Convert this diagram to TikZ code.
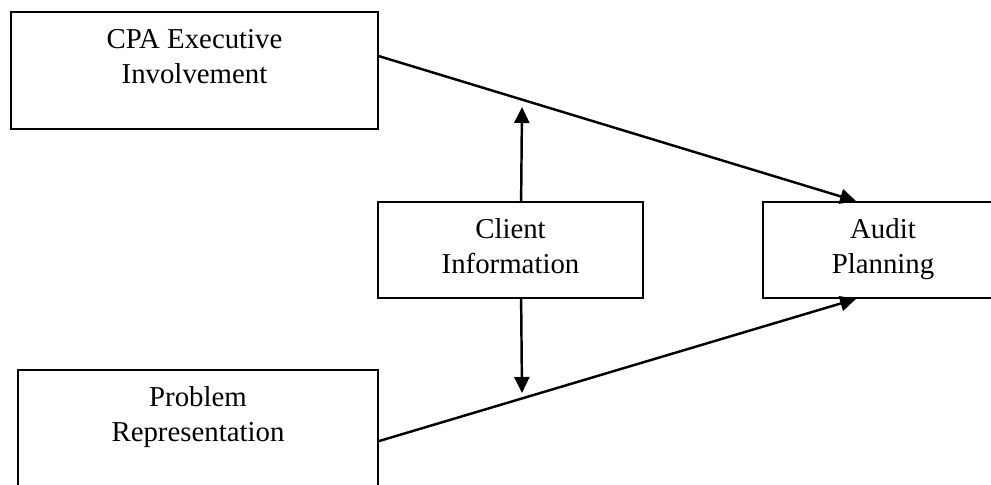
\documentclass[tikz,border=0pt]{standalone}
\usepackage{fontspec}
\setmainfont{Liberation Serif}
\usetikzlibrary{arrows.meta}
\tikzset{
  block/.style={draw, line width=1.5pt, align=center, inner ysep=0pt, text height=2.16cm},
  link/.style={-{Triangle[length=0.48cm,width=0.45cm]}, line width=2.1pt}
}

\begin{document}
\begin{tikzpicture}[font=\fontsize{24.6}{30}\selectfont]
\clip (0,0) rectangle (29.73,14.55);

% the four factors
\node[block, minimum width=11.01cm, text depth=1.35cm] (cpa) at (5.835,12.435) {CPA Executive\\Involvement};
\node[block, minimum width=7.95cm, text depth=0.72cm] (client) at (15.315,7.05) {Client\\Information};
\node[block, minimum width=7.2cm, text depth=0.72cm] (audit) at (26.49,7.05) {Audit\\Planning};
\node[block, minimum width=10.8cm, text depth=1.35cm] (prob) at (5.94,1.695) {Problem\\Representation};

% moderating arrows end just short of the main paths
\coordinate (uptip) at (15.66,11.34);
\coordinate (downtip) at (15.66,2.76);

\draw[link] ([yshift=-1.35cm]cpa.north east) -- ([xshift=2.82cm]audit.north west);
\draw[link] ([yshift=-2.16cm]prob.north east) -- ([xshift=2.82cm]audit.south west);
\draw[link] ([xshift=4.32cm]client.north west) -- (uptip);
\draw[link] ([xshift=4.32cm]client.south west) -- (downtip);
\end{tikzpicture}
\end{document}
